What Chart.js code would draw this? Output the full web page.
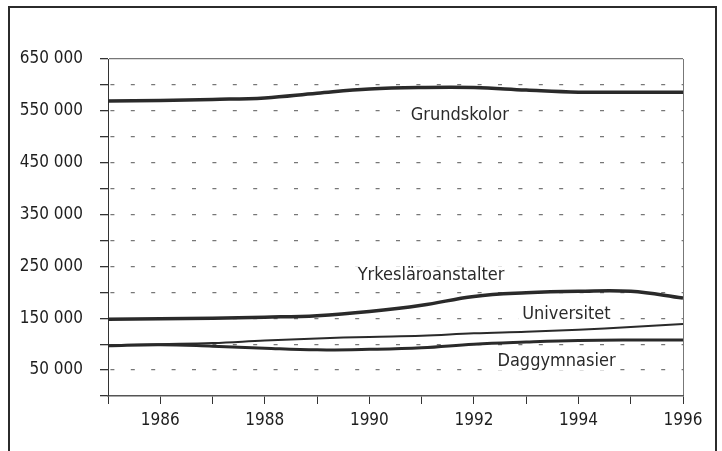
<!DOCTYPE html>
<html>
<head>
<meta charset="utf-8">
<script src="https://cdn.jsdelivr.net/npm/chart.js@4"></script>
<style>
  html, body { margin: 0; padding: 0; background: #fff; overflow: hidden; }
  #wrap { position: relative; width: 722px; height: 451px; }
  #frame {
    position: absolute; left: 8px; top: 6px; width: 709px; height: 470px;
    border: 2px solid #2b2b2b; box-sizing: border-box; pointer-events: none;
  }
  canvas { position: absolute; left: 0; top: 0; }
</style>
</head>
<body>
<div id="wrap">
  <canvas id="chart" width="722" height="451"></canvas>
  <div id="frame"></div>
</div>
<script>
// data
const years       = [1985, 1986, 1987, 1988, 1989, 1990, 1991, 1992, 1993, 1994, 1995, 1996];
const grundskolor = [569000, 570000, 572000, 575000, 584000, 592000, 595000, 595000, 590000, 586000, 586000, 586000];
const yrkes       = [148000, 149000, 150000, 152000, 155000, 163000, 175000, 192000, 199000, 202000, 202000, 189000];
const universitet = [98000, 100000, 102000, 107000, 111000, 114000, 116000, 121000, 124000, 128000, 133000, 139000];
const daggymn     = [97000, 99000, 96000, 92000, 89000, 90000, 93000, 100000, 104000, 107000, 108000, 108000];

// inline labels, placed in data coordinates
const seriesNames = ['Grundskolor', 'Yrkesläroanstalter', 'Universitet', 'Daggymnasier'];
const labelYears  = [1991.73, 1991.18, 1993.77, 1993.58];
const labelValues = [542000, 233000, 158000, 67500];

const ink = '#2a2a2a';
const tickFont = { family: '"Liberation Sans Narrow", "DejaVu Sans Condensed", sans-serif', size: 17 };

const toPoints = vals => years.map((y, i) => ({ x: y, y: vals[i] }));
const fmt = v => String(v).replace(/\B(?=(\d{3})+(?!\d))/g, ' ');

const lineLabels = {
  id: 'lineLabels',
  afterDatasetsDraw(chart) {
    const { ctx, scales: { x, y } } = chart;
    ctx.save();
    ctx.font = '18px "DejaVu Sans Condensed", sans-serif';
    ctx.textAlign = 'center';
    ctx.textBaseline = 'middle';
    seriesNames.forEach((name, i) => {
      const px = x.getPixelForValue(labelYears[i]);
      const py = y.getPixelForValue(labelValues[i]);
      const w = ctx.measureText(name).width;
      ctx.fillStyle = '#fff';
      ctx.fillRect(px - w / 2 - 4, py - 9, w + 8, 18);
      ctx.fillStyle = ink;
      ctx.fillText(name, px, py);
    });
    ctx.restore();
  }
};

const widths = [3.5, 3.5, 2, 3];
const sets = [grundskolor, yrkes, universitet, daggymn];

new Chart(document.getElementById('chart'), {
  type: 'line',
  data: {
    datasets: sets.map((vals, i) => ({
      label: seriesNames[i],
      data: toPoints(vals),
      borderColor: ink,
      borderWidth: widths[i],
      pointRadius: 0,
      tension: 0.4,
      fill: false
    }))
  },
  options: {
    responsive: false,
    animation: false,
    layout: { padding: { top: 59, right: 39, bottom: 0, left: 0 } },
    plugins: { legend: { display: false }, tooltip: { enabled: false } },
    scales: {
      x: {
        type: 'linear',
        min: 1985,
        max: 1996,
        afterFit: s => { s.height = 55; },
        ticks: {
          stepSize: 1,
          autoSkip: false,
          maxRotation: 0,
          padding: 6,
          color: '#1e1e1e',
          font: tickFont,
          callback: v => (v % 2 === 0 ? String(v) : '')
        },
        grid: {
          drawOnChartArea: true,
          color: c => (c.tick && c.tick.value === 1996 ? '#777' : 'rgba(0,0,0,0)'),
          lineWidth: 1,
          tickColor: '#333',
          tickLength: 8
        },
        border: { color: '#555', width: 1.5 }
      },
      y: {
        min: 0,
        max: 650000,
        afterFit: s => { s.width = 108; },
        ticks: {
          stepSize: 50000,
          autoSkip: false,
          padding: 17,
          color: '#1e1e1e',
          font: tickFont,
          callback: v => ((v / 50000) % 2 === 1 ? fmt(v) : '')
        },
        grid: {
          color: c => (c.tick && c.tick.value === 0 ? 'rgba(0,0,0,0)' : '#777'),
          lineWidth: 1.3,
          tickColor: '#333',
          tickLength: 8
        },
        border: {
          color: '#333',
          width: 1,
          dash: c => (c.tick && c.tick.value === 650000 ? [] : [4, 16.4]),
          dashOffset: 19
        }
      }
    }
  },
  plugins: [lineLabels]
});
</script>
</body>
</html>
